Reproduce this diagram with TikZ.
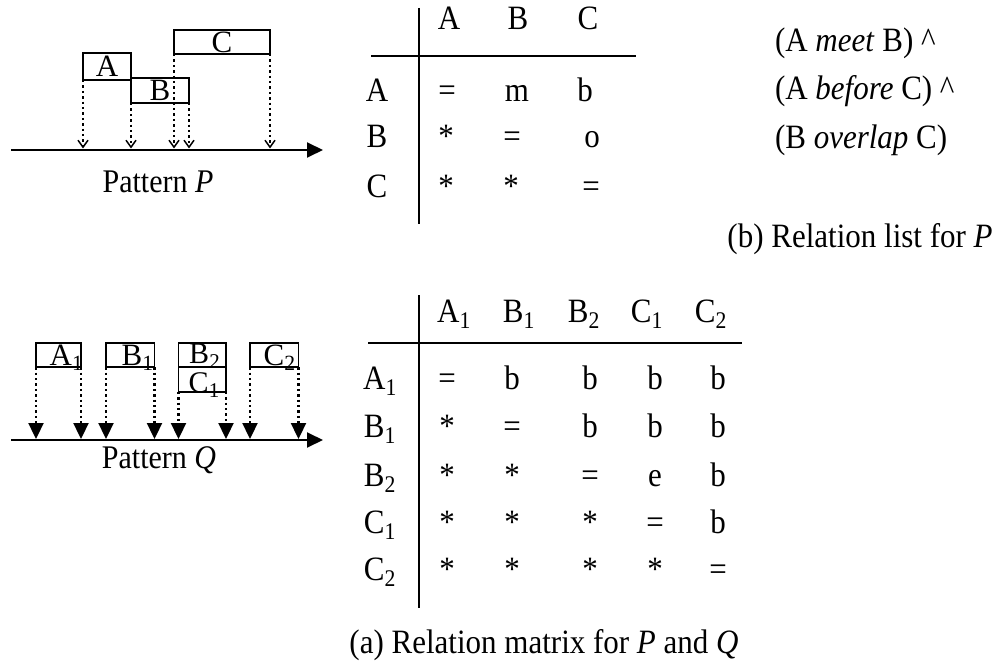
\documentclass[tikz,border=0pt]{standalone}
\usepackage{fontspec}
\setmainfont{Liberation Serif}
\usetikzlibrary{arrows.meta}

\begin{document}
\begin{tikzpicture}[x=1pt,y=-1pt,
  every node/.style={inner sep=0pt, outer sep=0pt, font=\fontsize{31}{36}\selectfont},
  txt/.style={anchor=base, yscale=1.1},
  pbox/.style={draw, line width=1.8pt, text height=20.5pt, text depth=0pt},
  qbox/.style={draw, line width=1.8pt, minimum height=24.5pt},
  qlbl/.style={text height=20pt, text depth=0pt, font=\fontsize{31}{34}\selectfont},
  rule/.style={line width=2.2pt},
  axis/.style={line width=1.9pt, -{Triangle[length=16pt,width=15pt]}},
  pdrop/.style={line width=2.3pt, dash pattern=on 2.4pt off 3pt,
    -{Straight Barb[length=7pt,width=10pt,line width=1.5pt]}},
  qdrop/.style={line width=2.3pt, dash pattern=on 2.4pt off 3pt,
    -{Triangle[length=16pt,width=15pt]}},
]
\useasboundingbox (0,0) rectangle (1008,663);

% ---------- Pattern P ----------
\coordinate (pl) at (11,150);
\coordinate (pr) at (323,150);
\coordinate (pend) at (0,148.5);
\draw[axis] (pl) -- (pr);

\node[pbox, minimum width=48pt, minimum height=27pt] (A) at (107,66.5) {A};
\node[pbox, minimum width=58pt, minimum height=25pt] (B) at (160,90.5) {B};
\node[pbox, minimum width=96pt, minimum height=24pt] (C) at (222,42) {C};

\draw[pdrop] (A.south west) -- (A.south west |- pend);
\draw[pdrop] (B.south west) -- (B.south west |- pend);
\draw[pdrop] (C.south west) -- (C.south west |- pend);
\draw[pdrop] (B.south east) -- (B.south east |- pend);
\draw[pdrop] (C.south east) -- (C.south east |- pend);

\node[txt, font=\fontsize{30}{34}\selectfont] (patP) at (158,192) {Pattern \textit{P}};

% ---------- Pattern Q ----------
\coordinate (ql) at (11,440);
\coordinate (qr) at (323,440);
\coordinate (qend) at (0,439);
\draw[axis] (ql) -- (qr);

\node[qbox, minimum width=45pt]   (A1) at (58.5,355) {};
\node[qbox, minimum width=48.5pt] (B1) at (130.25,355) {};
\node[qbox, minimum width=47.5pt] (B2) at (202.25,355) {};
\node[qbox, minimum width=47.5pt] (C1) at (202.25,379.5) {};
\node[qbox, minimum width=48.5pt] (C2) at (274.25,355) {};

\node[qlbl, xshift=8pt]   (A1t) at (A1.center) {A\textsubscript{1}};
\node[qlbl, xshift=7.5pt] (B1t) at (B1.center) {B\textsubscript{1}};
\node[qlbl, xshift=2.5pt, yshift=1.5pt, font=\fontsize{30}{34}\selectfont] (B2t) at (B2.center) {B\textsubscript{2}};
\node[qlbl, xshift=2pt, yshift=-3pt, font=\fontsize{30}{34}\selectfont] (C1t) at (C1.center) {C\textsubscript{1}};
\node[qlbl, xshift=5.5pt] (C2t) at (C2.center) {C\textsubscript{2}};

\foreach \b in {A1,B1,C1,C2}{
  \draw[qdrop] (\b.south west) -- (\b.south west |- qend);
  \draw[qdrop] (\b.south east) -- (\b.south east |- qend);
}

\node[txt, font=\fontsize{30}{34}\selectfont] (patQ) at (159,468) {Pattern \textit{Q}};

% ---------- Relation matrix for P ----------
\draw[rule] (419.3,8) -- (419.3,224);
\draw[rule] (371,56) -- (636,56);

\node[txt] (ph1) at (449,30) {A};
\node[txt] (ph2) at (518,30) {B};
\node[txt] (ph3) at (588,30) {C};

\node[txt] (pr1) at (377,102) {A};
\node[txt] (pr2) at (377,148) {B};
\node[txt] (pr3) at (377,197) {C};

\node[txt] (p11) at (447,102) {=};
\node[txt] (p12) at (517,102) {m};
\node[txt] (p13) at (585,102) {b};
\node[txt] (p21) at (446,148) {*};
\node[txt] (p22) at (512,148) {=};
\node[txt] (p23) at (592,148) {o};
\node[txt] (p31) at (446,197) {*};
\node[txt] (p32) at (511,197) {*};
\node[txt] (p33) at (591,197) {=};

% ---------- Relation list for P ----------
\node[txt, anchor=base west] (l1) at (775,52)  {(A \textit{meet} B) \textasciicircum};
\node[txt, anchor=base west] (l2) at (775,100) {(A \textit{before} C) \textasciicircum};
\node[txt, anchor=base west] (l3) at (775,149) {(B \textit{overlap} C)};
\node[txt] (capb) at (860,247) {(b) Relation list for \textit{P}};

% ---------- Relation matrix for Q ----------
\draw[rule] (419.3,295) -- (419.3,608);
\draw[rule] (368,343) -- (742,343);

\node[txt] (qh1) at (454,322) {A\textsubscript{1}};
\node[txt] (qh2) at (519,322) {B\textsubscript{1}};
\node[txt] (qh3) at (584,322) {B\textsubscript{2}};
\node[txt] (qh4) at (647,322) {C\textsubscript{1}};
\node[txt] (qh5) at (711,322) {C\textsubscript{2}};

\foreach \lab/\y [count=\r] in {A\textsubscript{1}/389, B\textsubscript{1}/437,
    B\textsubscript{2}/486, C\textsubscript{1}/533, C\textsubscript{2}/580}{
  \node[txt] (qr\r) at (380,\y) {\lab};
}

\foreach \row/\y [count=\r] in {{=,b,b,b,b}/389, {*,=,b,b,b}/437,
    {*,*,=,e,b}/486, {*,*,*,=,b}/533, {*,*,*,*,=}/580}{
  \foreach \v/\x [count=\c] in \row{
    \pgfmathsetmacro{\xx}{{447,512,590,655,718}[\c-1]}
    \node[txt] (q\r\c) at (\xx,\y) {\v};
  }
}

\node[txt] (capa) at (544,653) {(a) Relation matrix for \textit{P} and \textit{Q}};

\end{tikzpicture}
\end{document}
